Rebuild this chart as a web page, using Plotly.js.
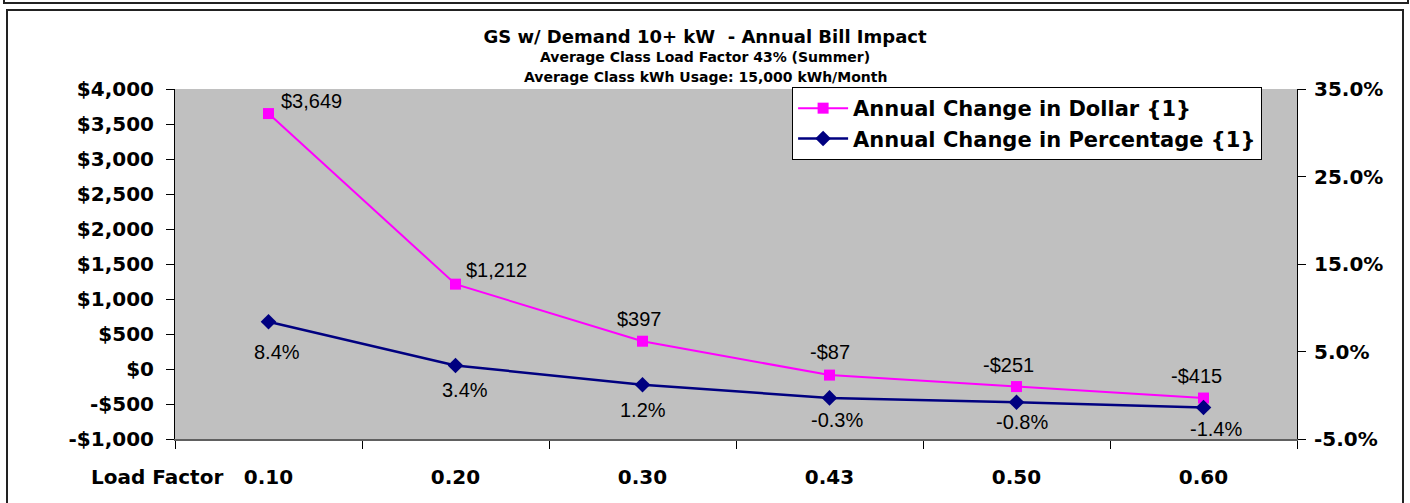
<!DOCTYPE html>
<html>
<head>
<meta charset="utf-8">
<script src="https://cdn.plot.ly/plotly-3.0.1.min.js"></script>
<style>
  html, body { margin: 0; padding: 0; background: #ffffff; overflow: hidden; }
  #wrap { position: relative; width: 1410px; height: 503px; }
  #chart { position: absolute; left: 0; top: 0; width: 1410px; height: 503px; }
  .frame { position: absolute; box-sizing: border-box; border: 2px solid #222; pointer-events: none; }
</style>
</head>
<body>
<div id="wrap">
  <div class="frame" style="left:3px;top:-20px;width:1406px;height:24px;"></div>
  <div class="frame" style="left:6px;top:9px;width:1398px;height:520px;"></div>
  <div id="chart"></div>
</div>
<script>
// ---- data ----
const categories = ["0.10", "0.20", "0.30", "0.43", "0.50", "0.60"];
const dollarChange = [3649, 1212, 397, -87, -251, -415];
const percentChange = [8.4, 3.4, 1.2, -0.3, -0.8, -1.4];
const dollarTickVals = [-1000, -500, 0, 500, 1000, 1500, 2000, 2500, 3000, 3500, 4000];
const percentTickVals = [-5, 5, 15, 25, 35];
const seriesNames = ["Annual Change in Dollar {1}", "Annual Change in Percentage {1}"];
const titleText = "GS w/ Demand 10+ kW  - Annual Bill Impact";
const subtitle1 = "Average Class Load Factor 43% (Summer)";
const subtitle2 = "Average Class kWh Usage: 15,000 kWh/Month";
const xLabelText = "Load Factor";

// ---- label style offsets (pixels) ----
const dollarLabelDX = [43, 41, -3, 0, -8, -7];
const dollarLabelDY = [13, 14, 22, 23, 22, 22];
const pctLabelDX = [8, 9, 0, 7, 5, 12];
const pctLabelDY = [-30, -24, -25, -22, -20, -21];

function fmtDollar(v) {
  const s = '$' + Math.abs(v).toLocaleString('en-US');
  return v < 0 ? '-' + s : s;
}
function fmtPct(v) { return v.toFixed(1) + '%'; }

const boldFont = { family: 'DejaVu Sans, Liberation Sans, Arial, sans-serif', weight: 'bold', color: '#000' };
const labelFont = { family: 'Liberation Sans, Arial, sans-serif', size: 20, color: '#000' };

const traces = [
  {
    x: categories, y: dollarChange, name: seriesNames[0],
    type: 'scatter', mode: 'lines+markers',
    line: { color: '#FF00FF', width: 2 },
    marker: { symbol: 'square', size: 11, color: '#FF00FF' },
    xaxis: 'x', yaxis: 'y', hoverinfo: 'skip'
  },
  {
    x: categories, y: percentChange, name: seriesNames[1],
    type: 'scatter', mode: 'lines+markers',
    line: { color: '#000080', width: 2.5 },
    marker: { symbol: 'diamond', size: 12, color: '#000080' },
    xaxis: 'x', yaxis: 'y2', hoverinfo: 'skip'
  }
];

const annotations = [];
categories.forEach((c, i) => {
  annotations.push({
    x: i, y: dollarChange[i], xref: 'x', yref: 'y',
    text: fmtDollar(dollarChange[i]), showarrow: false,
    xanchor: 'center', yanchor: 'middle',
    xshift: dollarLabelDX[i], yshift: dollarLabelDY[i], font: labelFont
  });
  annotations.push({
    x: i, y: percentChange[i], xref: 'x', yref: 'y2',
    text: fmtPct(percentChange[i]), showarrow: false,
    xanchor: 'center', yanchor: 'middle',
    xshift: pctLabelDX[i], yshift: pctLabelDY[i], font: labelFont
  });
});
annotations.push({
  x: 0.4724, y: 1.0914, xref: 'paper', yref: 'paper',
  text: subtitle1, showarrow: false, xanchor: 'center', yanchor: 'middle',
  font: Object.assign({}, boldFont, { size: 14 })
});
annotations.push({
  x: 0.4724, y: 1.0343, xref: 'paper', yref: 'paper',
  text: subtitle2, showarrow: false, xanchor: 'center', yanchor: 'middle',
  font: Object.assign({}, boldFont, { size: 14 })
});
annotations.push({
  x: 0.0446, y: -0.1086, xref: 'paper', yref: 'paper',
  text: xLabelText, showarrow: false, xanchor: 'right', yanchor: 'middle',
  font: Object.assign({}, boldFont, { size: 20 })
});

const layout = {
  width: 1410, height: 503,
  margin: { l: 175, r: 113, t: 89, b: 64, pad: 0 },
  paper_bgcolor: 'rgba(0,0,0,0)',
  plot_bgcolor: '#C0C0C0',
  showlegend: true,
  title: {
    text: titleText, xref: 'container', x: 0.5, xanchor: 'center',
    yref: 'container', y: 1 - 37 / 503, yanchor: 'middle',
    font: Object.assign({}, boldFont, { size: 18 })
  },
  xaxis: {
    type: 'category', categoryorder: 'array', categoryarray: categories,
    range: [-0.5, 5.5],
    showgrid: false, zeroline: false,
    showline: true, linecolor: '#606060', linewidth: 2,
    ticks: 'outside', tickson: 'boundaries', ticklen: 8, tickcolor: '#000', tickwidth: 1,
    ticklabelstandoff: 19,
    tickfont: Object.assign({}, boldFont, { size: 20 })
  },
  xaxis2: {
    overlaying: 'x', side: 'bottom', type: 'linear', range: [-0.5, 5.5],
    tickvals: [0.5, 1.5, 2.5, 3.5, 4.5],
    ticks: 'inside', ticklen: 8, tickcolor: '#000', tickwidth: 1,
    showticklabels: false, showgrid: false, zeroline: false, showline: false
  },
  yaxis: {
    range: [-1000, 4000], tickvals: dollarTickVals, ticktext: dollarTickVals.map(fmtDollar),
    showgrid: false, zeroline: false,
    showline: true, linecolor: '#000', linewidth: 1,
    ticks: 'outside', ticklen: 8, tickcolor: '#000', tickwidth: 1,
    ticklabelstandoff: 8,
    tickfont: Object.assign({}, boldFont, { size: 20 })
  },
  yaxis2: {
    overlaying: 'y', side: 'right',
    range: [-5, 35], tickvals: percentTickVals, ticktext: percentTickVals.map(fmtPct),
    showgrid: false, zeroline: false,
    showline: true, linecolor: '#000', linewidth: 1,
    ticks: 'outside', ticklen: 8, tickcolor: '#000', tickwidth: 1,
    ticklabelstandoff: 4,
    tickfont: Object.assign({}, boldFont, { size: 20 })
  },
  yaxis3: {
    overlaying: 'y', side: 'left', range: [-1000, 4000], tickvals: dollarTickVals,
    ticks: 'inside', ticklen: 8, tickcolor: '#000', tickwidth: 1,
    showticklabels: false, showgrid: false, zeroline: false, showline: false
  },
  yaxis4: {
    overlaying: 'y', side: 'right', range: [-5, 35], tickvals: percentTickVals,
    ticks: 'inside', ticklen: 8, tickcolor: '#000', tickwidth: 1,
    showticklabels: false, showgrid: false, zeroline: false, showline: false
  },
  legend: {
    x: 0.55, y: 1.0057, xanchor: 'left', yanchor: 'top',
    bgcolor: '#FFFFFF', bordercolor: '#000', borderwidth: 1,
    font: Object.assign({}, boldFont, { size: 21 }),
    itemwidth: 50,
    tracegroupgap: 0
  },
  annotations: annotations
};

Plotly.newPlot('chart', traces, layout, { staticPlot: true, displayModeBar: false });
</script>
</body>
</html>
